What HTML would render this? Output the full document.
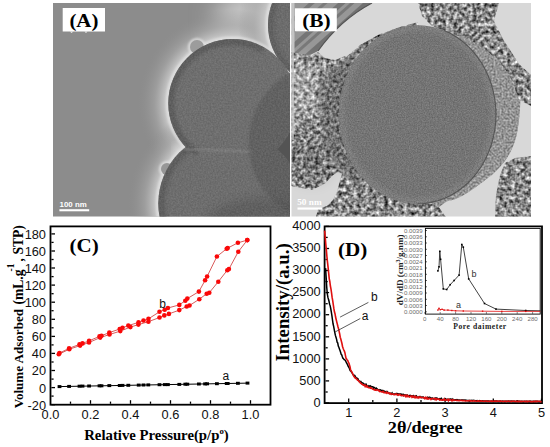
<!DOCTYPE html><html><head><meta charset="utf-8"><style>
*{margin:0;padding:0}
html,body{width:550px;height:447px;background:#fff;overflow:hidden}
svg{display:block}
.tk{font-family:"Liberation Sans",sans-serif;font-size:12.8px;fill:#111}
.lb{font-family:"Liberation Sans",sans-serif;font-size:12px;fill:#111}
.pl{font-family:"Liberation Serif",serif;font-weight:bold;font-size:18px;fill:#000}
.ax{font-family:"Liberation Serif",serif;font-weight:bold;fill:#000}
.itk{font-family:"Liberation Sans",sans-serif;font-size:6.1px;fill:#6a6a6a}
.ilb{font-family:"Liberation Sans",sans-serif;font-size:9px;fill:#333}
.iax{font-family:"Liberation Serif",serif;font-weight:bold;font-size:8.2px;fill:#222;letter-spacing:0.6px}
.iax2{font-family:"Liberation Serif",serif;font-weight:bold;font-size:9.1px;fill:#222}
.sb{font-family:"Liberation Sans",sans-serif;font-weight:bold;font-size:8px;fill:#fff}
.sb2{font-family:"Liberation Serif",serif;font-weight:bold;font-size:8.2px;fill:#fff}
</style></head><body><svg width="550" height="447" viewBox="0 0 550 447"><defs>
<clipPath id="clipA"><rect x="53" y="3" width="237" height="213.5"/></clipPath>
<clipPath id="clipB"><rect x="291.5" y="3" width="239.5" height="213.5"/></clipPath>
<clipPath id="clipS1"><circle cx="232.5" cy="103.3" r="64.2"/></clipPath><clipPath id="clipS2"><circle cx="329.6" cy="25" r="61.6"/></clipPath><clipPath id="clipS3"><circle cx="230.3" cy="203.5" r="72"/></clipPath>
<clipPath id="clipSphA"><circle cx="329.6" cy="25" r="61.6"/><circle cx="230.3" cy="203.5" r="72"/><circle cx="232.5" cy="103.3" r="64.2"/></clipPath>
<clipPath id="clipCoreB"><ellipse cx="417.5" cy="114.5" rx="78.5" ry="89.3"/></clipPath>
<clipPath id="clipShell"><path d="M440.0,27.0 C449.7,12.3 452.7,30.2 458.0,32.0 C463.3,33.8 467.3,35.5 472.0,38.0 C476.7,40.5 480.8,43.7 486.0,47.0 C491.2,50.3 498.2,53.2 503.0,58.0 C507.8,62.8 512.2,69.7 515.0,76.0 C517.8,82.3 519.3,88.7 520.0,96.0 C520.7,103.3 519.8,112.5 519.0,120.0 C518.2,127.5 517.0,134.7 515.0,141.0 C513.0,147.3 510.3,152.8 507.0,158.0 C503.7,163.2 499.5,167.7 495.0,172.0 C490.5,176.3 485.5,180.0 480.0,184.0 C474.5,188.0 467.3,193.2 462.0,196.0 C456.7,198.8 453.3,200.2 448.0,201.0 C442.7,201.8 438.0,214.5 430.0,201.0 C422.0,187.5 398.3,149.0 400.0,120.0 C401.7,91.0 430.3,41.7 440.0,27.0 Z"/></clipPath>
<clipPath id="clipTL"><path d="M291.5,3 L372,3 Q340,20 318,51 L300,60 L291.5,60 Z"/></clipPath>
<clipPath id="clipPartB"><path d="M291.0,52.0 L300.0,54.0 L312.0,55.0 L318.0,52.0 L325.0,58.0 L335.0,60.0 L345.0,56.0 L350.0,60.0 L350.0,176.0 L338.0,172.0 L333.0,175.0 L325.0,183.6 L312.0,190.0 L291.0,186.0 Z"/><path d="M418.0,3.0 L499.0,3.0 L494.0,21.0 L503.0,39.0 L512.0,53.0 L519.0,64.0 L531.0,75.0 L531.0,106.0 L519.0,100.0 L512.0,80.0 L500.0,62.0 L486.0,50.0 L470.0,40.0 L450.0,33.0 L432.0,26.0 L422.0,16.0 Z"/><path d="M495.0,217.0 L496.0,195.0 L500.0,175.0 L505.0,163.0 L515.0,158.0 L531.0,156.0 L531.0,217.0 Z"/><path d="M316.0,217.0 L318.0,209.0 L327.0,206.0 L333.0,200.0 L337.0,192.0 L340.0,180.0 L345.0,165.0 L355.0,168.0 L365.0,180.0 L375.0,190.0 L400.0,199.0 L425.0,202.0 L438.0,206.0 L446.0,217.0 Z"/><path d="M345.0,58.0 L360.0,45.0 L380.0,34.0 L400.0,27.0 L418.0,22.0 L418.0,30.0 L400.0,34.0 L380.0,41.0 L362.0,52.0 L350.0,62.0 Z"/></clipPath>
<mask id="maskDZ" maskUnits="userSpaceOnUse" x="291" y="3" width="240" height="214"><path d="M320,82 L330,70 L344,62 L358,56 L362,56 L362,186 L346,176 L336,164 L328,148 L321,120 Z" fill="#fff" filter="url(#blur2)"/></mask>
<clipPath id="clipDZ"><path d="M318,78 L328,64 L342,55 L358,47 L358,192 L345,182 L334,170 L325,152 L318,120 Z"/></clipPath>
<clipPath id="clipPart">
<path d="M291,58 L305,57 L318,59 L330,61 L345,60 L360,55 L360,170 L345,176 L334,170 L327,183 L318,192 L305,189 L291,185 Z"/><path d="M360,44 L375,33 L395,26 L418,20 L418,35 L380,45 Z"/>
<path d="M418,3 L499,3 L494,21 L503,39 L512,53 L519,64 L531,75 L531,106 L519,100 L512,80 L500,62 L486,50 L470,40 L450,33 L432,26 L422,16 Z"/>
<path d="M495,217 L496,195 L500,175 L505,163 L515,158 L531,156 L531,217 Z"/>
<path d="M315,217 L318,205 L326,200 L345,199 L360,194 L371,197 L400,199 L430,201 L451,201 L462,199 L472,205 L482,217 Z"/>
</clipPath>
<filter id="blur12" x="-50%" y="-50%" width="200%" height="200%"><feGaussianBlur stdDeviation="12"/></filter>
<filter id="blur8" x="-30%" y="-30%" width="160%" height="160%"><feGaussianBlur stdDeviation="8"/></filter>
<filter id="blur4" x="-30%" y="-30%" width="160%" height="160%"><feGaussianBlur stdDeviation="4"/></filter>
<filter id="blur2" x="-30%" y="-30%" width="160%" height="160%"><feGaussianBlur stdDeviation="2"/></filter>
<filter id="blur05" x="-30%" y="-30%" width="160%" height="160%"><feGaussianBlur stdDeviation="0.5"/></filter>
<filter id="blur1" x="-30%" y="-30%" width="160%" height="160%"><feGaussianBlur stdDeviation="0.8"/></filter>
<filter id="grainA" color-interpolation-filters="sRGB" x="0" y="0" width="100%" height="100%"><feTurbulence type="fractalNoise" baseFrequency="0.6" numOctaves="2" seed="3"/><feColorMatrix type="matrix" values="1 0 0 0 0 1 0 0 0 0 1 0 0 0 0 0 0 0 0 1"/></filter>
<filter id="grainB" color-interpolation-filters="sRGB" x="0" y="0" width="100%" height="100%"><feTurbulence type="fractalNoise" baseFrequency="0.75" numOctaves="2" seed="8"/><feColorMatrix type="matrix" values="1 0 0 0 0 1 0 0 0 0 1 0 0 0 0 0 0 0 0 1"/></filter>
<filter id="grainS" color-interpolation-filters="sRGB" x="0" y="0" width="100%" height="100%"><feTurbulence type="fractalNoise" baseFrequency="0.5" numOctaves="2" seed="11"/><feColorMatrix type="matrix" values="1 0 0 0 0 1 0 0 0 0 1 0 0 0 0 0 0 0 0 1"/><feComponentTransfer><feFuncR type="linear" slope="1.6" intercept="-0.25"/><feFuncG type="linear" slope="1.6" intercept="-0.25"/><feFuncB type="linear" slope="1.6" intercept="-0.25"/></feComponentTransfer></filter>
<filter id="mottle" color-interpolation-filters="sRGB" x="0" y="0" width="100%" height="100%"><feTurbulence type="fractalNoise" baseFrequency="0.26" numOctaves="2" seed="5"/><feColorMatrix type="matrix" values="1 0 0 0 0 1 0 0 0 0 1 0 0 0 0 0 0 0 0 1"/><feComponentTransfer><feFuncR type="linear" slope="1.35" intercept="-0.13"/><feFuncG type="linear" slope="1.35" intercept="-0.13"/><feFuncB type="linear" slope="1.35" intercept="-0.13"/></feComponentTransfer></filter>
<filter id="mottle2" color-interpolation-filters="sRGB" x="0" y="0" width="100%" height="100%"><feTurbulence type="fractalNoise" baseFrequency="0.3" numOctaves="2" seed="9"/><feColorMatrix type="matrix" values="1 0 0 0 0 1 0 0 0 0 1 0 0 0 0 0 0 0 0 1"/><feComponentTransfer><feFuncR type="linear" slope="0.9" intercept="0.0"/><feFuncG type="linear" slope="0.9" intercept="0.0"/><feFuncB type="linear" slope="0.9" intercept="0.0"/></feComponentTransfer><feGaussianBlur stdDeviation="0.4"/></filter>
</defs><g id="panelA">
<rect x="53" y="3" width="237" height="213.5" fill="#8c8c8c"/>
<g clip-path="url(#clipA)">
<ellipse cx="255" cy="18" rx="40" ry="28" fill="#c8c8c8" filter="url(#blur12)"/>
<radialGradient id="h1" gradientUnits="userSpaceOnUse" cx="232.5" cy="103.3" r="94.2"><stop offset="0.682" stop-color="#d6d6d6"/><stop offset="0.735" stop-color="#c2c2c2" stop-opacity="0.9"/><stop offset="0.830" stop-color="#a8a8a8" stop-opacity="0.6"/><stop offset="1" stop-color="#8f8f8f" stop-opacity="0"/></radialGradient>
<circle cx="232.5" cy="103.3" r="94.2" fill="url(#h1)"/>
<radialGradient id="h3" gradientUnits="userSpaceOnUse" cx="230.3" cy="203.5" r="102.0"><stop offset="0.706" stop-color="#d6d6d6"/><stop offset="0.755" stop-color="#c2c2c2" stop-opacity="0.9"/><stop offset="0.843" stop-color="#a8a8a8" stop-opacity="0.6"/><stop offset="1" stop-color="#8f8f8f" stop-opacity="0"/></radialGradient>
<circle cx="230.3" cy="203.5" r="102.0" fill="url(#h3)"/>
<radialGradient id="h2" gradientUnits="userSpaceOnUse" cx="329.6" cy="25.0" r="91.6"><stop offset="0.672" stop-color="#d6d6d6"/><stop offset="0.727" stop-color="#c2c2c2" stop-opacity="0.9"/><stop offset="0.825" stop-color="#a8a8a8" stop-opacity="0.6"/><stop offset="1" stop-color="#8f8f8f" stop-opacity="0"/></radialGradient>
<circle cx="329.6" cy="25.0" r="91.6" fill="url(#h2)"/>
<circle cx="181" cy="151" r="6" fill="#d8d8d8" filter="url(#blur4)"/>
<g filter="url(#blur1)" fill="none" stroke="#e2e2e2" stroke-width="2"><circle cx="232.5" cy="103.3" r="65.3"/><circle cx="230.3" cy="203.5" r="73.1"/><circle cx="329.6" cy="25" r="62.7"/><circle cx="197" cy="47" r="7.8"/><circle cx="167" cy="169" r="6.8"/></g>
<circle cx="197" cy="47" r="7" fill="#9c9c9c"/>
<circle cx="167" cy="169" r="6" fill="#979797"/>
<circle cx="328" cy="143" r="79.6" fill="#5c5c5c"/>
<circle cx="329.6" cy="25" r="61.6" fill="#6a6a6a"/>

<g clip-path="url(#clipS2)"><path d="M324.5,-33.6 A58.8,58.8 0 0 0 324.5,83.6" fill="none" stroke="#5a5a5a" stroke-width="6" filter="url(#blur2)"/></g>
<circle cx="230.3" cy="203.5" r="72" fill="#6b6b6b"/>
<g clip-path="url(#clipS3)"><path d="M218.3,135.5 A69.0,69.0 0 0 0 195.8,263.3" fill="none" stroke="#585858" stroke-width="7" filter="url(#blur2)"/></g>
<circle cx="232.5" cy="103.3" r="64.2" fill="#6d6d6d"/>
<g clip-path="url(#clipS1)"><path d="M263.2,50.0 A61.5,61.5 0 0 0 197.2,153.7" fill="none" stroke="#575757" stroke-width="7" filter="url(#blur2)"/></g>
<path d="M184,149 Q215,150 252,152" fill="none" stroke="#8a8a8a" stroke-width="2" opacity="0.7" filter="url(#blur1)"/>
<circle cx="328" cy="143" r="79.6" fill="#4a4a4a" opacity="0.38" filter="url(#blur1)"/>
<ellipse cx="262" cy="232" rx="60" ry="34" fill="#4a4a4a" opacity="0.42" filter="url(#blur4)"/>
<g clip-path="url(#clipSphA)"><rect x="150" y="3" width="140" height="214" filter="url(#grainA)" opacity="0.12"/></g>
</g>
<rect x="62.7" y="8" width="42.3" height="23.5" fill="#fff"/>
<path d="M69.8,31.4 L71.6,33 L73.4,31.4 Z M84.4,31.4 L86,33 L87.6,31.4 Z" fill="#eee"/>
<text x="69.4" y="26.9" class="pl" textLength="29" lengthAdjust="spacingAndGlyphs">(A)</text>
<text x="59.6" y="207" class="sb" textLength="27.2" lengthAdjust="spacingAndGlyphs">100 nm</text>
<rect x="59.4" y="209.2" width="29.8" height="2.1" fill="#fff"/>
</g><g id="panelB">
<rect x="291.5" y="3" width="239.5" height="213.5" fill="#d8d8d8"/>
<g clip-path="url(#clipB)">
<path d="M291.5,3 L372,3 Q340,20 318,51 L300,60 L291.5,60 Z" fill="#979797"/>
<g clip-path="url(#clipTL)" filter="url(#blur05)"><line x1="271.2" y1="88.6" x2="414.8" y2="-39.1" stroke="#555" stroke-width="6" opacity="0.55"/><line x1="264.5" y1="81.1" x2="408.2" y2="-46.6" stroke="#555" stroke-width="3" opacity="0.45"/><line x1="259.9" y1="75.9" x2="403.5" y2="-51.8" stroke="#555" stroke-width="5" opacity="0.50"/><line x1="252.6" y1="67.7" x2="396.2" y2="-60.0" stroke="#555" stroke-width="3" opacity="0.40"/><line x1="246.6" y1="61.0" x2="390.3" y2="-66.7" stroke="#555" stroke-width="4" opacity="0.45"/></g>
<rect x="291.5" y="3" width="3" height="60" fill="#c4c4c4"/>
<path d="M318,51 Q340,20 372,3" fill="none" stroke="#555" stroke-width="1.2"/>
<path d="M440.0,27.0 C449.7,12.3 452.7,30.2 458.0,32.0 C463.3,33.8 467.3,35.5 472.0,38.0 C476.7,40.5 480.8,43.7 486.0,47.0 C491.2,50.3 498.2,53.2 503.0,58.0 C507.8,62.8 512.2,69.7 515.0,76.0 C517.8,82.3 519.3,88.7 520.0,96.0 C520.7,103.3 519.8,112.5 519.0,120.0 C518.2,127.5 517.0,134.7 515.0,141.0 C513.0,147.3 510.3,152.8 507.0,158.0 C503.7,163.2 499.5,167.7 495.0,172.0 C490.5,176.3 485.5,180.0 480.0,184.0 C474.5,188.0 467.3,193.2 462.0,196.0 C456.7,198.8 453.3,200.2 448.0,201.0 C442.7,201.8 438.0,214.5 430.0,201.0 C422.0,187.5 398.3,149.0 400.0,120.0 C401.7,91.0 430.3,41.7 440.0,27.0 Z" fill="#989898"/>
<g clip-path="url(#clipShell)"><rect x="420" y="30" width="111" height="180" filter="url(#grainS)" opacity="0.35"/></g>
<g clip-path="url(#clipPartB)"><rect x="291" y="3" width="240" height="214" filter="url(#mottle)"/></g>
<ellipse cx="303" cy="88" rx="16" ry="30" fill="#fff" opacity="0.28" filter="url(#blur8)"/>
<ellipse cx="312" cy="160" rx="22" ry="22" fill="#000" opacity="0.14" filter="url(#blur8)"/>
<rect x="291.5" y="50" width="2.5" height="90" fill="#c8c8c8" opacity="0.7"/>
<g mask="url(#maskDZ)"><rect x="300" y="40" width="60" height="160" filter="url(#mottle2)"/></g>
<ellipse cx="417.5" cy="114.5" rx="78.5" ry="89.3" fill="#727272"/>
<g clip-path="url(#clipCoreB)"><ellipse cx="417.5" cy="114.5" rx="76" ry="86.8" fill="none" stroke="#8c8c8c" stroke-width="7" opacity="0.5" filter="url(#blur2)"/></g>
<g clip-path="url(#clipCoreB)"><rect x="330" y="20" width="180" height="185" filter="url(#grainB)" opacity="0.2"/></g>
<polyline points="444.3,30.6 450.7,33.6 456.8,37.2 462.5,41.3 468.0,46.1 473.0,51.4 477.6,57.1 481.8,63.3 485.5,69.9 488.6,76.8 491.3,84.0 493.3,91.4 494.8,99.0 495.7,106.7 496.0,114.5 495.7,122.3 494.8,130.0 493.3,137.6 491.3,145.0 488.6,152.2 485.5,159.1 481.8,165.7 477.6,171.9 473.0,177.6 468.0,182.9 462.5,187.7 456.8,191.8 450.7,195.4 444.3,198.4 437.8,200.8 431.1,202.4 424.3,203.5 417.5,203.8" fill="none" stroke="#4a4a4a" stroke-width="1.1" opacity="0.8"/>
</g>
<rect x="294.9" y="8.3" width="41.9" height="23" fill="#fff"/>
<text x="302.2" y="26.9" class="pl" textLength="28.4" lengthAdjust="spacingAndGlyphs">(B)</text>
<text x="297.2" y="205.2" class="sb2" textLength="24.4" lengthAdjust="spacingAndGlyphs">50 nm</text>
<rect x="297.5" y="207.5" width="24.8" height="2.1" fill="#fff"/>
</g><g id="chartC">
<rect x="50.5" y="226.4" width="220" height="178.3" fill="none" stroke="#000" stroke-width="1.8"/>
<line x1="51.4" y1="404.7" x2="55.0" y2="404.7" stroke="#000" stroke-width="1.3"/>
<line x1="51.4" y1="396.1" x2="53.6" y2="396.1" stroke="#000" stroke-width="1.3"/>
<line x1="51.4" y1="387.6" x2="55.0" y2="387.6" stroke="#000" stroke-width="1.3"/>
<line x1="51.4" y1="379.1" x2="53.6" y2="379.1" stroke="#000" stroke-width="1.3"/>
<line x1="51.4" y1="370.5" x2="55.0" y2="370.5" stroke="#000" stroke-width="1.3"/>
<line x1="51.4" y1="362.0" x2="53.6" y2="362.0" stroke="#000" stroke-width="1.3"/>
<line x1="51.4" y1="353.4" x2="55.0" y2="353.4" stroke="#000" stroke-width="1.3"/>
<line x1="51.4" y1="344.9" x2="53.6" y2="344.9" stroke="#000" stroke-width="1.3"/>
<line x1="51.4" y1="336.4" x2="55.0" y2="336.4" stroke="#000" stroke-width="1.3"/>
<line x1="51.4" y1="327.8" x2="53.6" y2="327.8" stroke="#000" stroke-width="1.3"/>
<line x1="51.4" y1="319.3" x2="55.0" y2="319.3" stroke="#000" stroke-width="1.3"/>
<line x1="51.4" y1="310.7" x2="53.6" y2="310.7" stroke="#000" stroke-width="1.3"/>
<line x1="51.4" y1="302.2" x2="55.0" y2="302.2" stroke="#000" stroke-width="1.3"/>
<line x1="51.4" y1="293.7" x2="53.6" y2="293.7" stroke="#000" stroke-width="1.3"/>
<line x1="51.4" y1="285.1" x2="55.0" y2="285.1" stroke="#000" stroke-width="1.3"/>
<line x1="51.4" y1="276.6" x2="53.6" y2="276.6" stroke="#000" stroke-width="1.3"/>
<line x1="51.4" y1="268.0" x2="55.0" y2="268.0" stroke="#000" stroke-width="1.3"/>
<line x1="51.4" y1="259.5" x2="53.6" y2="259.5" stroke="#000" stroke-width="1.3"/>
<line x1="51.4" y1="251.0" x2="55.0" y2="251.0" stroke="#000" stroke-width="1.3"/>
<line x1="51.4" y1="242.4" x2="53.6" y2="242.4" stroke="#000" stroke-width="1.3"/>
<line x1="51.4" y1="233.9" x2="55.0" y2="233.9" stroke="#000" stroke-width="1.3"/>
<text x="46.0" y="409.6" class="tk" text-anchor="end">-20</text>
<text x="46.0" y="392.5" class="tk" text-anchor="end">0</text>
<text x="46.0" y="375.4" class="tk" text-anchor="end">20</text>
<text x="46.0" y="358.3" class="tk" text-anchor="end">40</text>
<text x="46.0" y="341.3" class="tk" text-anchor="end">60</text>
<text x="46.0" y="324.2" class="tk" text-anchor="end">80</text>
<text x="46.0" y="307.1" class="tk" text-anchor="end">100</text>
<text x="46.0" y="290.0" class="tk" text-anchor="end">120</text>
<text x="46.0" y="272.9" class="tk" text-anchor="end">140</text>
<text x="46.0" y="255.9" class="tk" text-anchor="end">160</text>
<text x="46.0" y="238.8" class="tk" text-anchor="end">180</text>
<line x1="70.5" y1="403.8" x2="70.5" y2="401.6" stroke="#000" stroke-width="1.3"/>
<line x1="90.5" y1="403.8" x2="90.5" y2="400.2" stroke="#000" stroke-width="1.3"/>
<line x1="110.5" y1="403.8" x2="110.5" y2="401.6" stroke="#000" stroke-width="1.3"/>
<line x1="130.5" y1="403.8" x2="130.5" y2="400.2" stroke="#000" stroke-width="1.3"/>
<line x1="150.5" y1="403.8" x2="150.5" y2="401.6" stroke="#000" stroke-width="1.3"/>
<line x1="170.5" y1="403.8" x2="170.5" y2="400.2" stroke="#000" stroke-width="1.3"/>
<line x1="190.5" y1="403.8" x2="190.5" y2="401.6" stroke="#000" stroke-width="1.3"/>
<line x1="210.5" y1="403.8" x2="210.5" y2="400.2" stroke="#000" stroke-width="1.3"/>
<line x1="230.5" y1="403.8" x2="230.5" y2="401.6" stroke="#000" stroke-width="1.3"/>
<line x1="250.5" y1="403.8" x2="250.5" y2="400.2" stroke="#000" stroke-width="1.3"/>
<text x="50.5" y="419.2" class="tk" text-anchor="middle">0.0</text>
<text x="90.5" y="419.2" class="tk" text-anchor="middle">0.2</text>
<text x="130.5" y="419.2" class="tk" text-anchor="middle">0.4</text>
<text x="170.5" y="419.2" class="tk" text-anchor="middle">0.6</text>
<text x="210.5" y="419.2" class="tk" text-anchor="middle">0.8</text>
<text x="250.5" y="419.2" class="tk" text-anchor="middle">1.0</text>
<polyline points="58.5,386.6 248.5,383.1" fill="none" stroke="#000" stroke-width="1"/>
<rect x="57.6" y="385.1" width="3.8" height="3.0" fill="#000"/>
<rect x="67.2" y="384.9" width="3.8" height="3.0" fill="#000"/>
<rect x="77.6" y="384.7" width="3.8" height="3.0" fill="#000"/>
<rect x="80.6" y="384.6" width="3.8" height="3.0" fill="#000"/>
<rect x="87.2" y="384.5" width="3.8" height="3.0" fill="#000"/>
<rect x="97.6" y="384.3" width="3.8" height="3.0" fill="#000"/>
<rect x="99.6" y="384.3" width="3.8" height="3.0" fill="#000"/>
<rect x="107.4" y="384.1" width="3.8" height="3.0" fill="#000"/>
<rect x="117.8" y="384.0" width="3.8" height="3.0" fill="#000"/>
<rect x="120.6" y="383.9" width="3.8" height="3.0" fill="#000"/>
<rect x="126.4" y="383.8" width="3.8" height="3.0" fill="#000"/>
<rect x="136.8" y="383.6" width="3.8" height="3.0" fill="#000"/>
<rect x="141.6" y="383.5" width="3.8" height="3.0" fill="#000"/>
<rect x="146.4" y="383.4" width="3.8" height="3.0" fill="#000"/>
<rect x="157.6" y="383.2" width="3.8" height="3.0" fill="#000"/>
<rect x="162.8" y="383.1" width="3.8" height="3.0" fill="#000"/>
<rect x="166.0" y="383.1" width="3.8" height="3.0" fill="#000"/>
<rect x="177.4" y="382.9" width="3.8" height="3.0" fill="#000"/>
<rect x="183.4" y="382.7" width="3.8" height="3.0" fill="#000"/>
<rect x="185.4" y="382.7" width="3.8" height="3.0" fill="#000"/>
<rect x="197.0" y="382.5" width="3.8" height="3.0" fill="#000"/>
<rect x="203.2" y="382.4" width="3.8" height="3.0" fill="#000"/>
<rect x="205.2" y="382.3" width="3.8" height="3.0" fill="#000"/>
<rect x="215.0" y="382.2" width="3.8" height="3.0" fill="#000"/>
<rect x="224.8" y="382.0" width="3.8" height="3.0" fill="#000"/>
<rect x="225.8" y="382.0" width="3.8" height="3.0" fill="#000"/>
<rect x="236.0" y="381.8" width="3.8" height="3.0" fill="#000"/>
<rect x="245.6" y="381.6" width="3.8" height="3.0" fill="#000"/>
<polyline points="58.8,354.3 69.3,349.2 80.1,345.6 89.0,342.5 100.2,337.6 109.5,334.5 120.3,331.1 130.4,327.1 138.4,324.6 148.4,321.7 159.5,317.5 164.3,315.4 168.9,313.9 179.3,310.1 186.7,306.5 189.5,305.5 199.3,299.2 206.7,293.7 209.3,292.7 218.3,281.7 227.3,270.2 228.9,269.1 238.3,251.7 247.3,240.1" fill="none" stroke="#d23c3c" stroke-width="0.85"/>
<polyline points="247.3,240.1 237.9,242.8 227.7,248.1 226.7,248.7 216.9,256.5 207.1,276.5 205.1,280.3 198.9,291.6 187.3,298.6 185.3,300.7 179.3,304.9 167.9,308.0 164.7,309.7 159.5,311.8 148.5,318.8 143.5,320.5 138.5,322.4 128.3,325.6 122.5,327.8 119.7,329.0 109.3,332.6 101.5,335.7 99.5,336.4 89.1,340.8 82.5,343.4 79.5,344.4 69.1,348.3 59.5,353.1" fill="none" stroke="#d23c3c" stroke-width="0.85"/>
<circle cx="58.8" cy="354.3" r="2.3" fill="#fa0808"/>
<circle cx="69.3" cy="349.2" r="2.3" fill="#fa0808"/>
<circle cx="80.1" cy="345.6" r="2.3" fill="#fa0808"/>
<circle cx="89.0" cy="342.5" r="2.3" fill="#fa0808"/>
<circle cx="100.2" cy="337.6" r="2.3" fill="#fa0808"/>
<circle cx="109.5" cy="334.5" r="2.3" fill="#fa0808"/>
<circle cx="120.3" cy="331.1" r="2.3" fill="#fa0808"/>
<circle cx="130.4" cy="327.1" r="2.3" fill="#fa0808"/>
<circle cx="138.4" cy="324.6" r="2.3" fill="#fa0808"/>
<circle cx="148.4" cy="321.7" r="2.3" fill="#fa0808"/>
<circle cx="159.5" cy="317.5" r="2.3" fill="#fa0808"/>
<circle cx="164.3" cy="315.4" r="2.3" fill="#fa0808"/>
<circle cx="168.9" cy="313.9" r="2.3" fill="#fa0808"/>
<circle cx="179.3" cy="310.1" r="2.3" fill="#fa0808"/>
<circle cx="186.7" cy="306.5" r="2.3" fill="#fa0808"/>
<circle cx="189.5" cy="305.5" r="2.3" fill="#fa0808"/>
<circle cx="199.3" cy="299.2" r="2.3" fill="#fa0808"/>
<circle cx="206.7" cy="293.7" r="2.3" fill="#fa0808"/>
<circle cx="209.3" cy="292.7" r="2.3" fill="#fa0808"/>
<circle cx="218.3" cy="281.7" r="2.3" fill="#fa0808"/>
<circle cx="227.3" cy="270.2" r="2.3" fill="#fa0808"/>
<circle cx="228.9" cy="269.1" r="2.3" fill="#fa0808"/>
<circle cx="238.3" cy="251.7" r="2.3" fill="#fa0808"/>
<circle cx="247.3" cy="240.1" r="2.3" fill="#fa0808"/>
<circle cx="247.3" cy="240.1" r="2.3" fill="#fa0808"/>
<circle cx="237.9" cy="242.8" r="2.3" fill="#fa0808"/>
<circle cx="227.7" cy="248.1" r="2.3" fill="#fa0808"/>
<circle cx="226.7" cy="248.7" r="2.3" fill="#fa0808"/>
<circle cx="216.9" cy="256.5" r="2.3" fill="#fa0808"/>
<circle cx="207.1" cy="276.5" r="2.3" fill="#fa0808"/>
<circle cx="205.1" cy="280.3" r="2.3" fill="#fa0808"/>
<circle cx="198.9" cy="291.6" r="2.3" fill="#fa0808"/>
<circle cx="187.3" cy="298.6" r="2.3" fill="#fa0808"/>
<circle cx="185.3" cy="300.7" r="2.3" fill="#fa0808"/>
<circle cx="179.3" cy="304.9" r="2.3" fill="#fa0808"/>
<circle cx="167.9" cy="308.0" r="2.3" fill="#fa0808"/>
<circle cx="164.7" cy="309.7" r="2.3" fill="#fa0808"/>
<circle cx="159.5" cy="311.8" r="2.3" fill="#fa0808"/>
<circle cx="148.5" cy="318.8" r="2.3" fill="#fa0808"/>
<circle cx="143.5" cy="320.5" r="2.3" fill="#fa0808"/>
<circle cx="138.5" cy="322.4" r="2.3" fill="#fa0808"/>
<circle cx="128.3" cy="325.6" r="2.3" fill="#fa0808"/>
<circle cx="122.5" cy="327.8" r="2.3" fill="#fa0808"/>
<circle cx="119.7" cy="329.0" r="2.3" fill="#fa0808"/>
<circle cx="109.3" cy="332.6" r="2.3" fill="#fa0808"/>
<circle cx="101.5" cy="335.7" r="2.3" fill="#fa0808"/>
<circle cx="99.5" cy="336.4" r="2.3" fill="#fa0808"/>
<circle cx="89.1" cy="340.8" r="2.3" fill="#fa0808"/>
<circle cx="82.5" cy="343.4" r="2.3" fill="#fa0808"/>
<circle cx="79.5" cy="344.4" r="2.3" fill="#fa0808"/>
<circle cx="69.1" cy="348.3" r="2.3" fill="#fa0808"/>
<circle cx="59.5" cy="353.1" r="2.3" fill="#fa0808"/>
<text x="159.2" y="308.2" class="lb">b</text>
<text x="222.4" y="380.2" class="lb">a</text>
<text x="69.5" y="251.6" class="pl" textLength="29.2" lengthAdjust="spacingAndGlyphs">(C)</text>
<text transform="translate(23.3,408.3) rotate(-90)" class="ax" style="font-size:13px" textLength="99.3" lengthAdjust="spacingAndGlyphs">Volume Adsorbed</text>
<text transform="translate(23.3,304.6) rotate(-90)" class="ax" style="font-size:13.6px">(mL.g</text>
<text transform="translate(13.8,271.4) rotate(-90)" class="ax" style="font-size:9.5px">-1</text>
<text transform="translate(23.3,261.4) rotate(-90)" class="ax" style="font-size:13.6px">, STP)</text>
<text x="84.2" y="439.6" class="ax" style="font-size:15.2px" textLength="144.5" lengthAdjust="spacingAndGlyphs">Relative Pressure(p/p<tspan dy="-6" style="font-size:9px">o</tspan><tspan dy="6">)</tspan></text>
</g><g id="chartD">
<rect x="324.6" y="226.4" width="217.4" height="176.7" fill="none" stroke="#000" stroke-width="1.8"/>
<line x1="325.5" y1="403.0" x2="329.1" y2="403.0" stroke="#000" stroke-width="1.3"/>
<line x1="325.5" y1="392.0" x2="327.7" y2="392.0" stroke="#000" stroke-width="1.3"/>
<line x1="325.5" y1="380.9" x2="329.1" y2="380.9" stroke="#000" stroke-width="1.3"/>
<line x1="325.5" y1="369.9" x2="327.7" y2="369.9" stroke="#000" stroke-width="1.3"/>
<line x1="325.5" y1="358.9" x2="329.1" y2="358.9" stroke="#000" stroke-width="1.3"/>
<line x1="325.5" y1="347.8" x2="327.7" y2="347.8" stroke="#000" stroke-width="1.3"/>
<line x1="325.5" y1="336.8" x2="329.1" y2="336.8" stroke="#000" stroke-width="1.3"/>
<line x1="325.5" y1="325.7" x2="327.7" y2="325.7" stroke="#000" stroke-width="1.3"/>
<line x1="325.5" y1="314.7" x2="329.1" y2="314.7" stroke="#000" stroke-width="1.3"/>
<line x1="325.5" y1="303.7" x2="327.7" y2="303.7" stroke="#000" stroke-width="1.3"/>
<line x1="325.5" y1="292.6" x2="329.1" y2="292.6" stroke="#000" stroke-width="1.3"/>
<line x1="325.5" y1="281.6" x2="327.7" y2="281.6" stroke="#000" stroke-width="1.3"/>
<line x1="325.5" y1="270.5" x2="329.1" y2="270.5" stroke="#000" stroke-width="1.3"/>
<line x1="325.5" y1="259.5" x2="327.7" y2="259.5" stroke="#000" stroke-width="1.3"/>
<line x1="325.5" y1="248.5" x2="329.1" y2="248.5" stroke="#000" stroke-width="1.3"/>
<line x1="325.5" y1="237.4" x2="327.7" y2="237.4" stroke="#000" stroke-width="1.3"/>
<line x1="325.5" y1="226.4" x2="329.1" y2="226.4" stroke="#000" stroke-width="1.3"/>
<text x="320.7" y="406.7" class="tk" text-anchor="end">0</text>
<text x="320.7" y="384.6" class="tk" text-anchor="end">500</text>
<text x="320.7" y="362.6" class="tk" text-anchor="end">1000</text>
<text x="320.7" y="340.5" class="tk" text-anchor="end">1500</text>
<text x="320.7" y="318.4" class="tk" text-anchor="end">2000</text>
<text x="320.7" y="296.3" class="tk" text-anchor="end">2500</text>
<text x="320.7" y="274.2" class="tk" text-anchor="end">3000</text>
<text x="320.7" y="252.2" class="tk" text-anchor="end">3500</text>
<text x="320.7" y="230.1" class="tk" text-anchor="end">4000</text>
<line x1="348.7" y1="402.2" x2="348.7" y2="398.6" stroke="#000" stroke-width="1.3"/>
<line x1="372.8" y1="402.2" x2="372.8" y2="400.0" stroke="#000" stroke-width="1.3"/>
<line x1="396.9" y1="402.2" x2="396.9" y2="398.6" stroke="#000" stroke-width="1.3"/>
<line x1="421.0" y1="402.2" x2="421.0" y2="400.0" stroke="#000" stroke-width="1.3"/>
<line x1="445.1" y1="402.2" x2="445.1" y2="398.6" stroke="#000" stroke-width="1.3"/>
<line x1="469.2" y1="402.2" x2="469.2" y2="400.0" stroke="#000" stroke-width="1.3"/>
<line x1="493.3" y1="402.2" x2="493.3" y2="398.6" stroke="#000" stroke-width="1.3"/>
<line x1="517.4" y1="402.2" x2="517.4" y2="400.0" stroke="#000" stroke-width="1.3"/>
<line x1="541.5" y1="402.2" x2="541.5" y2="398.6" stroke="#000" stroke-width="1.3"/>
<text x="348.7" y="417.2" class="tk" text-anchor="middle">1</text>
<text x="396.9" y="417.2" class="tk" text-anchor="middle">2</text>
<text x="445.1" y="417.2" class="tk" text-anchor="middle">3</text>
<text x="493.3" y="417.2" class="tk" text-anchor="middle">4</text>
<text x="541.5" y="417.2" class="tk" text-anchor="middle">5</text>
<polyline points="325.56,268.10 326.14,277.12 326.72,287.05 327.30,293.99 327.88,297.13 328.46,299.33 329.03,301.27 329.61,304.23 330.19,305.84 330.77,308.76 331.35,312.16 331.93,315.94 332.50,320.00 333.08,324.01 333.66,326.33 334.24,329.63 334.82,332.63 335.40,335.43 335.98,337.19 336.55,339.13 337.13,342.10 337.71,342.92 338.29,346.10 338.87,347.28 339.45,348.99 340.02,350.57 340.60,352.30 341.18,354.43 341.76,354.92 342.34,356.83 342.92,358.21 343.49,358.66 344.07,359.62 344.65,359.65 345.23,360.34 345.81,361.23 346.39,362.67 346.96,363.59 347.54,364.67 348.12,366.25 348.70,367.22 349.28,368.13 349.86,369.90 350.44,370.78 351.01,370.99 351.59,372.29 352.17,373.02 352.75,374.30 353.33,374.86 353.91,374.99 354.48,376.67 355.06,376.09 355.64,377.12 356.22,378.19 356.80,377.93 357.38,378.97 357.95,378.90 358.53,380.33 359.11,380.99 359.69,381.21 360.27,382.01 360.85,381.59 361.42,382.48 362.00,382.70 362.58,383.02 363.16,383.19 363.74,384.07 364.32,384.55 364.90,384.21 365.47,384.80 366.05,384.27 366.63,385.42 367.21,385.57 367.79,386.27 368.37,386.25 368.94,385.71 369.52,386.06 370.10,386.67 370.68,386.00 371.26,386.84 371.84,386.66 372.41,386.81 372.99,386.95 373.57,388.16 374.15,387.47 374.73,387.85 375.31,388.26 375.88,389.13 376.46,388.23 377.04,388.94 377.62,389.28 378.20,389.94 378.78,390.06 379.36,390.32 379.93,389.70 380.51,390.09 381.09,390.21 381.67,391.14 382.25,391.43 382.83,390.48 383.40,390.70 383.98,390.96 384.56,391.14 385.14,391.67 385.72,391.99 386.30,391.70 386.87,391.50 387.45,392.25 388.03,392.34 388.61,392.78 389.19,393.48 389.77,393.26 390.34,393.17 390.92,393.46 391.50,393.63 392.08,392.85 392.66,394.13 393.24,394.05 393.82,394.27 394.39,394.25 394.97,393.77 395.55,393.86 396.13,393.53 396.71,394.36 397.29,393.64 397.86,393.73 398.44,394.01 399.02,394.03 399.60,394.36 400.18,394.03 400.76,394.04 401.33,394.33 401.91,394.34 402.49,394.78 403.07,394.38 403.65,395.64 404.23,395.35 404.80,394.78 405.38,394.99 405.96,395.20 406.54,395.30 407.12,395.03 407.70,396.11 408.28,396.39 408.85,395.72 409.43,395.81 410.01,395.32 410.59,395.41 411.17,395.81 411.75,395.77 412.32,396.63 412.90,395.76 413.48,395.63 414.06,396.99 414.64,396.46 415.22,395.99 415.79,396.60 416.37,395.94 416.95,396.71 417.53,397.40 418.11,397.30 418.69,397.13 419.26,396.58 419.84,396.79 420.42,396.57 421.00,397.48 421.58,397.21 422.16,397.61 422.74,397.04 423.31,396.95 423.89,397.83 424.47,398.13 425.05,398.00 425.63,397.99 426.21,398.06 426.78,398.00 427.36,397.34 427.94,397.80 428.52,397.63 429.10,397.22 429.68,397.27 430.25,397.67 430.83,397.70 431.41,398.35 431.99,398.77 432.57,398.11 433.15,398.84 433.72,398.96 434.30,398.96 434.88,398.18 435.46,398.03 436.04,398.08 436.62,398.09 437.20,398.14 437.77,398.77 438.35,399.20 438.93,399.16 439.51,398.70 440.09,398.99 440.67,399.24 441.24,398.28 441.82,399.13 442.40,399.52 442.98,399.38 443.56,399.38 444.14,399.04 444.71,398.66 445.29,399.55 445.87,398.95 446.45,399.65 447.03,399.92 447.61,399.16 448.18,399.20 448.76,400.00 449.34,399.73 449.92,398.99 450.50,398.97 451.08,399.04 451.66,400.13 452.23,400.02 452.81,399.13 453.39,400.12 453.97,400.37 454.55,399.95 455.13,399.69 455.70,399.82 456.28,399.65 456.86,399.63 457.44,400.13 458.02,400.00 458.60,399.97 459.17,400.20 459.75,399.99 460.33,400.23 460.91,400.24 461.49,399.97 462.07,400.02 462.64,400.07 463.22,400.07 463.80,400.27 464.38,400.14 464.96,400.25 465.54,400.13 466.12,400.54 466.69,400.30 467.27,400.37 467.85,400.46 468.43,400.63 469.01,400.41 469.59,400.68 470.16,400.49 470.74,400.53 471.32,400.54 471.90,400.31 472.48,400.54 473.06,400.43 473.63,400.36 474.21,400.77 474.79,400.48 475.37,400.64 475.95,400.78 476.53,400.72 477.10,400.62 477.68,400.74 478.26,400.77 478.84,400.90 479.42,400.58 480.00,400.82 480.58,400.69 481.15,400.72 481.73,400.98 482.31,400.86 482.89,400.91 483.47,401.02 484.05,401.11 484.62,400.90 485.20,400.99 485.78,400.96 486.36,400.98 486.94,401.08 487.52,400.98 488.09,401.03 488.67,401.02 489.25,401.26 489.83,401.16 490.41,401.26 490.99,401.31 491.56,400.99 492.14,401.15 492.72,401.35 493.30,401.31 493.88,400.97 494.46,400.97 495.04,401.13 495.61,400.95 496.19,401.04 496.77,400.96 497.35,401.26 497.93,401.32 498.51,401.38 499.08,401.02 499.66,401.30 500.24,401.28 500.82,401.03 501.40,401.40 501.98,401.44 502.55,401.08 503.13,401.45 503.71,401.18 504.29,401.23 504.87,401.48 505.45,401.40 506.02,401.08 506.60,401.22 507.18,401.26 507.76,401.18 508.34,401.11 508.92,401.18 509.50,401.38 510.07,401.04 510.65,401.31 511.23,401.26 511.81,401.05 512.39,401.21 512.97,401.36 513.54,401.31 514.12,401.09 514.70,401.55 515.28,401.46 515.86,401.55 516.44,401.13 517.01,401.21 517.59,401.11 518.17,401.47 518.75,401.23 519.33,401.16 519.91,401.31 520.48,401.56 521.06,401.51 521.64,401.24 522.22,401.19 522.80,401.58 523.38,401.41 523.96,401.48 524.53,401.18 525.11,401.17 525.69,401.48 526.27,401.36 526.85,401.19 527.43,401.62 528.00,401.47 528.58,401.56 529.16,401.21 529.74,401.59 530.32,401.21 530.90,401.61 531.47,401.41 532.05,401.36 532.63,401.47 533.21,401.65 533.79,401.33 534.37,401.27 534.94,401.47 535.52,401.33 536.10,401.27 536.68,401.30 537.26,401.25 537.84,401.33 538.42,401.39 538.99,401.39 539.57,401.61 540.15,401.39 540.73,401.49 541.31,401.34" fill="none" stroke="#000" stroke-width="1.5"/>
<polyline points="324.60,230.60 325.18,236.89 325.76,243.70 326.34,249.60 326.91,256.59 327.49,262.08 328.07,267.10 328.65,272.81 329.23,278.55 329.81,281.47 330.38,286.02 330.96,288.92 331.54,292.85 332.12,297.39 332.70,300.68 333.28,304.60 333.85,308.49 334.43,311.81 335.01,313.69 335.59,317.06 336.17,319.49 336.75,321.93 337.32,324.12 337.90,326.48 338.48,328.43 339.06,331.11 339.64,333.71 340.22,337.23 340.80,339.03 341.37,341.29 341.95,343.48 342.53,346.50 343.11,348.32 343.69,349.76 344.27,350.88 344.84,352.44 345.42,355.32 346.00,358.20 346.58,358.96 347.16,360.09 347.74,360.55 348.31,362.22 348.89,363.09 349.47,365.03 350.05,366.98 350.63,370.22 351.21,370.85 351.78,372.13 352.36,372.80 352.94,374.46 353.52,375.67 354.10,376.75 354.68,377.06 355.26,378.11 355.83,378.02 356.41,378.98 356.99,379.32 357.57,380.32 358.15,380.37 358.73,380.88 359.30,381.80 359.88,382.15 360.46,383.03 361.04,383.33 361.62,384.01 362.20,384.25 362.77,384.69 363.35,385.27 363.93,384.93 364.51,385.18 365.09,386.43 365.67,385.59 366.24,386.71 366.82,386.80 367.40,386.17 367.98,387.47 368.56,387.75 369.14,387.57 369.72,387.91 370.29,388.23 370.87,387.52 371.45,388.29 372.03,388.49 372.61,389.17 373.19,389.35 373.76,389.60 374.34,389.47 374.92,390.11 375.50,390.02 376.08,390.24 376.66,389.79 377.23,389.71 377.81,390.04 378.39,390.54 378.97,390.34 379.55,391.53 380.13,391.29 380.70,391.54 381.28,391.70 381.86,391.92 382.44,391.80 383.02,391.27 383.60,392.52 384.18,392.60 384.75,392.40 385.33,392.58 385.91,392.89 386.49,392.20 387.07,393.27 387.65,392.72 388.22,392.60 388.80,393.00 389.38,393.77 389.96,393.17 390.54,394.04 391.12,394.48 391.69,393.90 392.27,393.83 392.85,394.06 393.43,394.43 394.01,394.64 394.59,394.52 395.16,394.64 395.74,393.93 396.32,394.12 396.90,394.35 397.48,395.12 398.06,394.59 398.64,395.04 399.21,394.34 399.79,394.49 400.37,394.86 400.95,395.50 401.53,395.61 402.11,395.66 402.68,395.20 403.26,395.59 403.84,395.59 404.42,395.67 405.00,395.26 405.58,396.41 406.15,395.51 406.73,396.67 407.31,396.69 407.89,395.47 408.47,396.16 409.05,396.73 409.62,397.00 410.20,396.35 410.78,396.16 411.36,396.14 411.94,397.24 412.52,396.27 413.10,396.85 413.67,396.30 414.25,396.90 414.83,397.56 415.41,396.47 415.99,397.50 416.57,397.13 417.14,397.73 417.72,397.55 418.30,396.96 418.88,397.96 419.46,397.46 420.04,396.88 420.61,396.92 421.19,397.67 421.77,397.68 422.35,397.54 422.93,397.37 423.51,397.72 424.08,397.75 424.66,398.54 425.24,397.43 425.82,398.54 426.40,398.73 426.98,397.78 427.56,398.97 428.13,398.73 428.71,399.05 429.29,398.25 429.87,398.42 430.45,398.50 431.03,399.41 431.60,398.89 432.18,398.62 432.76,398.77 433.34,398.60 433.92,398.34 434.50,398.46 435.07,399.54 435.65,398.82 436.23,399.78 436.81,398.86 437.39,398.94 437.97,399.33 438.54,398.92 439.12,399.22 439.70,400.09 440.28,400.03 440.86,399.97 441.44,399.76 442.02,400.20 442.59,400.27 443.17,399.76 443.75,400.03 444.33,399.13 444.91,400.12 445.49,399.76 446.06,400.22 446.64,400.10 447.22,399.63 447.80,399.33 448.38,400.59 448.96,399.50 449.53,400.02 450.11,399.87 450.69,399.84 451.27,400.49 451.85,400.85 452.43,399.88 453.00,400.46 453.58,399.99 454.16,400.38 454.74,400.28 455.32,400.19 455.90,400.22 456.48,400.27 457.05,400.64 457.63,400.47 458.21,400.36 458.79,400.72 459.37,400.79 459.95,400.55 460.52,400.42 461.10,400.47 461.68,400.45 462.26,400.60 462.84,400.50 463.42,400.60 463.99,400.63 464.57,400.81 465.15,400.99 465.73,400.94 466.31,400.80 466.89,400.82 467.46,400.90 468.04,400.83 468.62,400.82 469.20,400.69 469.78,400.81 470.36,401.16 470.94,400.75 471.51,400.94 472.09,401.01 472.67,401.14 473.25,400.83 473.83,400.86 474.41,400.86 474.98,400.94 475.56,400.97 476.14,401.23 476.72,401.19 477.30,401.21 477.88,400.80 478.45,400.81 479.03,401.15 479.61,401.25 480.19,401.05 480.77,401.11 481.35,400.83 481.92,401.03 482.50,401.30 483.08,401.26 483.66,401.28 484.24,401.35 484.82,401.00 485.40,400.94 485.97,400.97 486.55,401.16 487.13,401.25 487.71,401.38 488.29,401.28 488.87,401.25 489.44,401.32 490.02,401.17 490.60,401.23 491.18,400.98 491.76,401.35 492.34,401.09 492.91,401.43 493.49,401.31 494.07,401.14 494.65,401.06 495.23,401.12 495.81,401.32 496.38,401.35 496.96,401.07 497.54,401.05 498.12,401.27 498.70,401.31 499.28,401.21 499.86,401.14 500.43,401.33 501.01,401.04 501.59,401.19 502.17,401.27 502.75,401.51 503.33,401.36 503.90,401.48 504.48,401.29 505.06,401.17 505.64,401.18 506.22,401.53 506.80,401.41 507.37,401.22 507.95,401.08 508.53,401.32 509.11,401.41 509.69,401.29 510.27,401.21 510.84,401.42 511.42,401.55 512.00,401.21 512.58,401.12 513.16,401.27 513.74,401.31 514.32,401.44 514.89,401.21 515.47,401.51 516.05,401.48 516.63,401.37 517.21,401.23 517.79,401.60 518.36,401.28 518.94,401.54 519.52,401.25 520.10,401.25 520.68,401.52 521.26,401.29 521.83,401.62 522.41,401.40 522.99,401.25 523.57,401.27 524.15,401.37 524.73,401.49 525.30,401.63 525.88,401.24 526.46,401.37 527.04,401.28 527.62,401.66 528.20,401.25 528.78,401.21 529.35,401.22 529.93,401.39 530.51,401.64 531.09,401.63 531.67,401.56 532.25,401.70 532.82,401.67 533.40,401.37 533.98,401.31 534.56,401.68 535.14,401.59 535.72,401.24 536.29,401.55 536.87,401.42 537.45,401.42 538.03,401.40 538.61,401.32 539.19,401.24 539.76,401.38 540.34,401.42 540.92,401.72 541.50,401.31" fill="none" stroke="#e01010" stroke-width="1.6"/>
<line x1="368.4" y1="302.4" x2="340.1" y2="317.1" stroke="#333" stroke-width="0.8"/>
<line x1="360.3" y1="318.5" x2="335.2" y2="331.9" stroke="#333" stroke-width="0.8"/>
<text x="371" y="301.4" class="lb">b</text>
<text x="361.7" y="320.2" class="lb">a</text>
<text x="337.9" y="256.4" class="pl" textLength="29.3" lengthAdjust="spacingAndGlyphs">(D)</text>
<text transform="translate(289.4,361.5) rotate(-90)" class="ax" style="font-size:18.6px" textLength="118.3" lengthAdjust="spacingAndGlyphs">Intensity/(a.u.)</text>
<text x="387.8" y="432.8" class="ax" style="font-size:17.4px" textLength="74.8" lengthAdjust="spacingAndGlyphs">2&#952;/degree</text>
<rect x="425.4" y="228.4" width="114.8" height="85.7" fill="#fff" stroke="#000" stroke-width="0.9"/>
<text x="422.6" y="314.0" class="itk" text-anchor="end">0.0000</text>
<line x1="425.4" y1="311.8" x2="427" y2="311.8" stroke="#000" stroke-width="0.6"/>
<text x="422.6" y="307.7" class="itk" text-anchor="end">0.0003</text>
<line x1="425.4" y1="305.5" x2="427" y2="305.5" stroke="#000" stroke-width="0.6"/>
<text x="422.6" y="301.5" class="itk" text-anchor="end">0.0006</text>
<line x1="425.4" y1="299.3" x2="427" y2="299.3" stroke="#000" stroke-width="0.6"/>
<text x="422.6" y="295.2" class="itk" text-anchor="end">0.0009</text>
<line x1="425.4" y1="293.0" x2="427" y2="293.0" stroke="#000" stroke-width="0.6"/>
<text x="422.6" y="289.0" class="itk" text-anchor="end">0.0012</text>
<line x1="425.4" y1="286.8" x2="427" y2="286.8" stroke="#000" stroke-width="0.6"/>
<text x="422.6" y="282.7" class="itk" text-anchor="end">0.0015</text>
<line x1="425.4" y1="280.5" x2="427" y2="280.5" stroke="#000" stroke-width="0.6"/>
<text x="422.6" y="276.5" class="itk" text-anchor="end">0.0018</text>
<line x1="425.4" y1="274.3" x2="427" y2="274.3" stroke="#000" stroke-width="0.6"/>
<text x="422.6" y="270.2" class="itk" text-anchor="end">0.0021</text>
<line x1="425.4" y1="268.0" x2="427" y2="268.0" stroke="#000" stroke-width="0.6"/>
<text x="422.6" y="264.0" class="itk" text-anchor="end">0.0024</text>
<line x1="425.4" y1="261.8" x2="427" y2="261.8" stroke="#000" stroke-width="0.6"/>
<text x="422.6" y="257.7" class="itk" text-anchor="end">0.0027</text>
<line x1="425.4" y1="255.5" x2="427" y2="255.5" stroke="#000" stroke-width="0.6"/>
<text x="422.6" y="251.5" class="itk" text-anchor="end">0.0030</text>
<line x1="425.4" y1="249.3" x2="427" y2="249.3" stroke="#000" stroke-width="0.6"/>
<text x="422.6" y="245.2" class="itk" text-anchor="end">0.0033</text>
<line x1="425.4" y1="243.0" x2="427" y2="243.0" stroke="#000" stroke-width="0.6"/>
<text x="422.6" y="239.0" class="itk" text-anchor="end">0.0036</text>
<line x1="425.4" y1="236.8" x2="427" y2="236.8" stroke="#000" stroke-width="0.6"/>
<text x="422.6" y="232.7" class="itk" text-anchor="end">0.0039</text>
<line x1="425.4" y1="230.5" x2="427" y2="230.5" stroke="#000" stroke-width="0.6"/>
<text x="424.8" y="321.3" class="itk" text-anchor="middle">0</text>
<line x1="424.8" y1="313.7" x2="424.8" y2="312.2" stroke="#000" stroke-width="0.6"/>
<text x="440.2" y="321.3" class="itk" text-anchor="middle">40</text>
<line x1="440.2" y1="313.7" x2="440.2" y2="312.2" stroke="#000" stroke-width="0.6"/>
<text x="455.6" y="321.3" class="itk" text-anchor="middle">80</text>
<line x1="455.6" y1="313.7" x2="455.6" y2="312.2" stroke="#000" stroke-width="0.6"/>
<text x="471.0" y="321.3" class="itk" text-anchor="middle">120</text>
<line x1="471.0" y1="313.7" x2="471.0" y2="312.2" stroke="#000" stroke-width="0.6"/>
<text x="486.4" y="321.3" class="itk" text-anchor="middle">160</text>
<line x1="486.4" y1="313.7" x2="486.4" y2="312.2" stroke="#000" stroke-width="0.6"/>
<text x="501.8" y="321.3" class="itk" text-anchor="middle">200</text>
<line x1="501.8" y1="313.7" x2="501.8" y2="312.2" stroke="#000" stroke-width="0.6"/>
<text x="517.2" y="321.3" class="itk" text-anchor="middle">240</text>
<line x1="517.2" y1="313.7" x2="517.2" y2="312.2" stroke="#000" stroke-width="0.6"/>
<text x="532.6" y="321.3" class="itk" text-anchor="middle">280</text>
<line x1="532.6" y1="313.7" x2="532.6" y2="312.2" stroke="#000" stroke-width="0.6"/>
<polyline points="437.9,270.9 439.0,266.8 439.8,251.3 440.6,259.3 443.3,288.9 446.7,289.5 450.2,284.7 454.1,280.5 459.1,275.1 461.8,244.5 463.3,247.2 468.7,278.9 484.5,303.5 496.0,309.1 525.7,310.5 540.3,310.8" fill="none" stroke="#111" stroke-width="0.8"/>
<rect x="437.1" y="270.1" width="1.6" height="1.6" fill="#000"/>
<rect x="438.2" y="266.0" width="1.6" height="1.6" fill="#000"/>
<rect x="439.0" y="250.5" width="1.6" height="1.6" fill="#000"/>
<rect x="439.8" y="258.5" width="1.6" height="1.6" fill="#000"/>
<rect x="442.5" y="288.1" width="1.6" height="1.6" fill="#000"/>
<rect x="445.9" y="288.7" width="1.6" height="1.6" fill="#000"/>
<rect x="449.4" y="283.9" width="1.6" height="1.6" fill="#000"/>
<rect x="453.3" y="279.7" width="1.6" height="1.6" fill="#000"/>
<rect x="458.3" y="274.3" width="1.6" height="1.6" fill="#000"/>
<rect x="461.0" y="243.7" width="1.6" height="1.6" fill="#000"/>
<rect x="462.5" y="246.4" width="1.6" height="1.6" fill="#000"/>
<rect x="467.9" y="278.1" width="1.6" height="1.6" fill="#000"/>
<rect x="483.7" y="302.7" width="1.6" height="1.6" fill="#000"/>
<rect x="495.2" y="308.3" width="1.6" height="1.6" fill="#000"/>
<rect x="524.9" y="309.7" width="1.6" height="1.6" fill="#000"/>
<polyline points="437.9,310.1 439.0,308.3 440.2,309.7 442.1,309.3 444.1,310.1 447.9,310.1 451.8,310.5 455.6,310.8 463.3,311.0 482.6,311.2 501.8,311.4 525.7,311.4 540.3,311.4" fill="none" stroke="#e01010" stroke-width="0.8"/>
<rect x="437.2" y="309.4" width="1.4" height="1.4" fill="#e01010"/>
<rect x="438.3" y="307.6" width="1.4" height="1.4" fill="#e01010"/>
<rect x="439.5" y="309.0" width="1.4" height="1.4" fill="#e01010"/>
<rect x="441.4" y="308.6" width="1.4" height="1.4" fill="#e01010"/>
<rect x="443.4" y="309.4" width="1.4" height="1.4" fill="#e01010"/>
<rect x="447.2" y="309.4" width="1.4" height="1.4" fill="#e01010"/>
<rect x="451.1" y="309.8" width="1.4" height="1.4" fill="#e01010"/>
<rect x="454.9" y="310.1" width="1.4" height="1.4" fill="#e01010"/>
<rect x="462.6" y="310.3" width="1.4" height="1.4" fill="#e01010"/>
<rect x="481.9" y="310.5" width="1.4" height="1.4" fill="#e01010"/>
<rect x="501.1" y="310.7" width="1.4" height="1.4" fill="#e01010"/>
<rect x="525.0" y="310.7" width="1.4" height="1.4" fill="#e01010"/>
<text x="471.5" y="276.8" class="ilb">b</text>
<text x="456" y="307.8" class="ilb">a</text>
<text x="453.2" y="329.2" class="iax" textLength="53.6" lengthAdjust="spacingAndGlyphs">Pore daimeter</text>
<text transform="translate(403.2,305.2) rotate(-90)" class="iax2">dV/dD (cm<tspan dy="-3" style="font-size:6px">3</tspan><tspan dy="3">/g.nm)</tspan></text>
</g></svg></body></html>
